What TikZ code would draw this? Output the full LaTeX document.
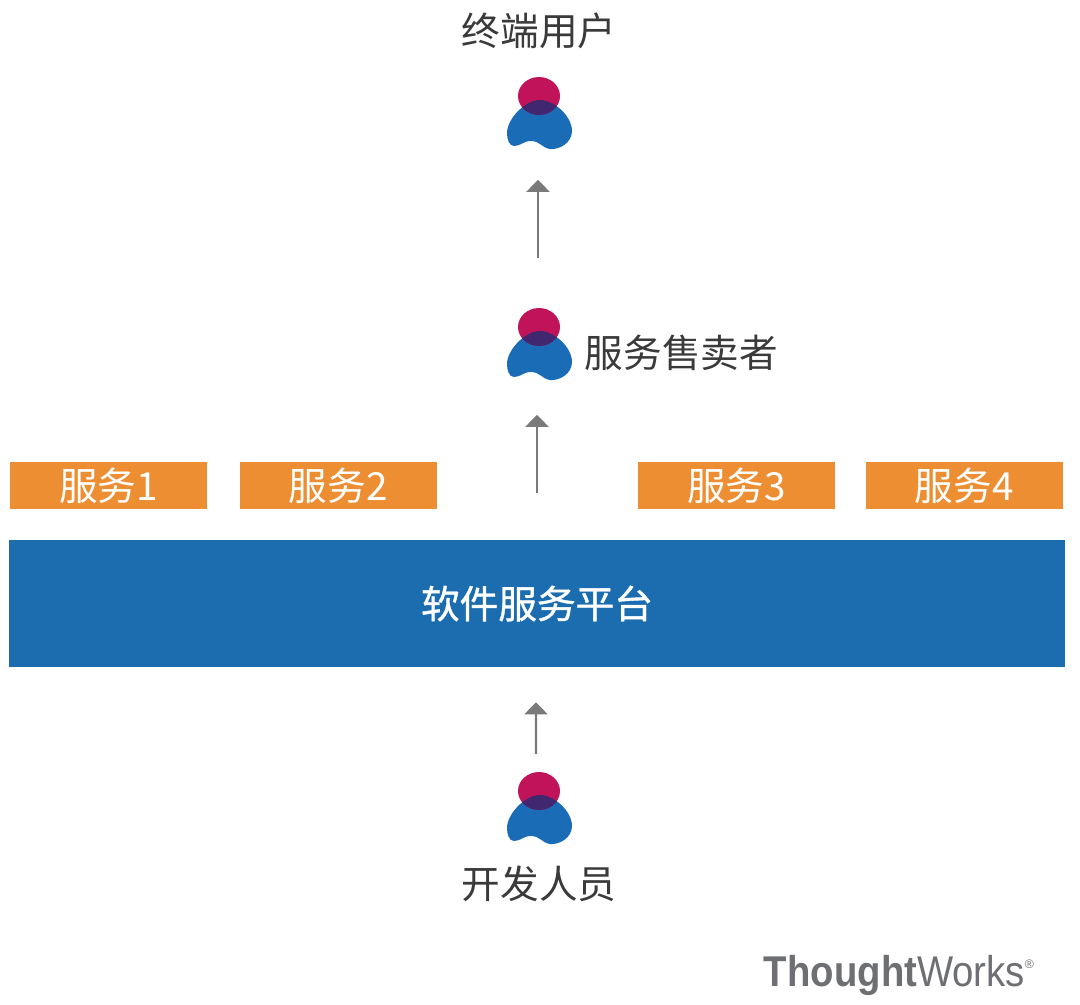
\documentclass[tikz,border=0pt]{standalone}
\usepackage{xcolor}
\usepackage{fontspec}
\setmainfont{Liberation Sans}
\newfontfamily\cjk{Noto Sans CJK SC}
\newfontfamily\cjkmed[FakeBold=1]{Noto Sans CJK SC}
\usepackage{tikz}
\usetikzlibrary{arrows.meta,positioning}
\definecolor{tworange}{HTML}{EE8E33}
\definecolor{twblue}{HTML}{1C6DB0}
\definecolor{twbody}{HTML}{1A6CB6}
\definecolor{twhead}{HTML}{C0135A}
\definecolor{twdark}{HTML}{41276F}
\definecolor{bk80}{HTML}{3A3A3A}
\definecolor{bk50}{HTML}{7A7A7A}
\definecolor{logogray}{HTML}{6E6F72}
\tikzset{
  servicebox/.style={
    rectangle, fill=tworange, text=white,
    minimum width=3.94cm, minimum height=0.94cm,
    font=\cjk\fontsize{22}{25}\selectfont, align=center,
    inner sep=0pt
  },
  platformbox/.style={
    rectangle, fill=twblue, text=white,
    minimum width=21.12cm, minimum height=2.54cm,
    font=\cjkmed\fontsize{22}{25}\selectfont, align=center,
    inner sep=0pt
  },
  personbox/.style={
    rectangle, minimum width=1.32cm, minimum height=1.46cm, inner sep=0pt
  },
  rolelabel/.style={
    font=\cjk\fontsize{22}{25}\selectfont, text=bk80, inner sep=0pt
  },
  flowarrow/.style={
    -{Triangle[length=12*0.02cm, width=23*0.02cm]}, line width=1.4pt, color=bk50
  },
  personicon/.pic={
    \def\bodypath{(1,-13) .. controls (15,-13) and (33,3) .. (33,18)
      .. controls (33,30) and (20,37) .. (11,36)
      .. controls (3,35) and (1,28) .. (-8,28)
      .. controls (-16,28) and (-18,33) .. (-25,33)
      .. controls (-30,33) and (-32,26) .. (-32,20)
      .. controls (-32,6) and (-14,-13) .. (1,-13) -- cycle}
    \fill[twbody] \bodypath;
    \fill[twhead] (0,-17) ellipse [x radius=21, y radius=19];
    \begin{scope}
      \clip \bodypath;
      \fill[twdark] (0,-17) ellipse [x radius=21, y radius=19];
    \end{scope}
  },
}
\begin{document}
\begin{tikzpicture}[x=0.02cm, y=-0.02cm]
  \useasboundingbox (0,0) rectangle (1080,1005);

  % People
  \node[personbox] (user) at (539,113) {};
  \pic at (user) {personicon};
  \node[rolelabel, above=0.54cm of user] (userlabel) {终端用户};
  \node[personbox] (seller) at (539,344) {};
  \pic at (seller) {personicon};
  \node[rolelabel, right=0.24cm of seller, yshift=-0.18cm] (sellerlabel) {服务售卖者};
  \node[personbox] (dev) at (539,808) {};
  \pic at (dev) {personicon};
  \node[rolelabel, below=0.42cm of dev] (devlabel) {开发人员};

  % Platform and services
  \node[platformbox] (platform) at (537,603.5) {软件服务平台};
  \node[servicebox] (serv1) at (108.5,485.5) {服务1};
  \node[servicebox, right=0.64cm of serv1] (serv2) {服务2};
  \node[servicebox] (serv3) at (736.5,485.5) {服务3};
  \node[servicebox, right=0.60cm of serv3] (serv4) {服务4};

  % Arrows
  \draw[flowarrow, shorten <=0.98cm, shorten >=0.6cm] ([xshift=-0.02cm]seller.north) -- ([xshift=-0.02cm]user.south);
  \draw[flowarrow, shorten <=0.94cm, shorten >=0.68cm] (platform.north) -- (platform.north |- seller.south);
  \draw[flowarrow, shorten <=0.34cm, shorten >=0.7cm] ([xshift=-0.06cm]dev.north) -- ([xshift=-0.02cm]platform.south);

  % Logo
  \node[inner sep=0pt, text=logogray, font=\fontsize{24.5}{28}\selectfont] (logo) at (899,975)
    {\scalebox{0.89}[1]{\textbf{Thought}Works}\raisebox{0.75ex}{\fontsize{7}{8}\selectfont ®}};
\end{tikzpicture}
\end{document}
